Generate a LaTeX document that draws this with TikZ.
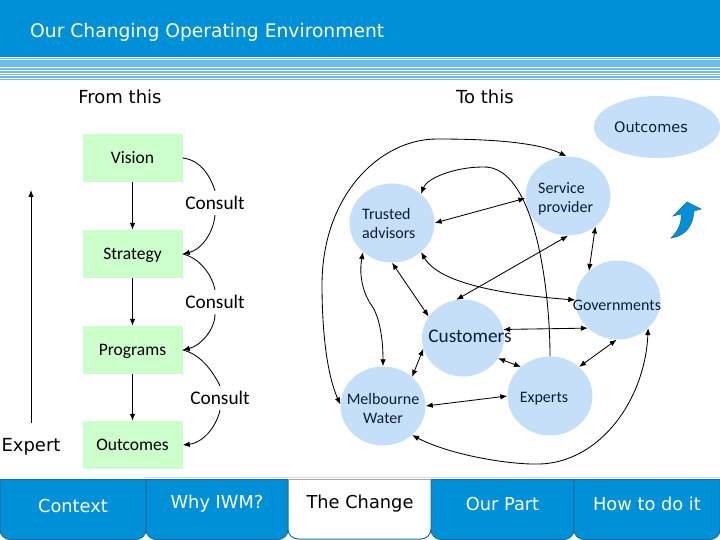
\documentclass[tikz,border=0pt]{standalone}
\usepackage{fontspec}
\setmainfont{Carlito}
\newfontfamily\verd{DejaVu Sans}
\usepackage{xcolor}
\usetikzlibrary{shapes.geometric}
\usetikzlibrary{arrows.meta}
\definecolor{iwmblue}{HTML}{0090D7}
\definecolor{iwmdark}{HTML}{1B6F9F}
\definecolor{stripe}{HTML}{6FBDE6}
\definecolor{boxgreen}{HTML}{CCFFCC}
\definecolor{bubble}{HTML}{C6DFF9}
\definecolor{inktext}{HTML}{0B1F33}

\begin{document}
\begin{tikzpicture}[x=1pt,y=-1pt]%%header, ladder, web, tabs

                \tikzstyle{stepbox} = [rectangle, minimum width=100pt, minimum height=48pt, fill=boxgreen, inner sep=0pt, text height=13pt, text depth=2pt, font=\fontsize{17.5}{19}\selectfont]
                \tikzstyle{bubblenode} = [ellipse, minimum width=85pt, minimum height=79pt, fill=bubble, inner sep=0pt]
                \tikzstyle{bubbletext} = [align=left, inner sep=0pt, text=inktext, font=\fontsize{16}{19}\selectfont]
                \tikzstyle{consult} = [inner sep=0pt, minimum height=24pt, font=\fontsize{19.3}{21}\selectfont]
                \tikzstyle{heading} = [inner sep=0pt, font=\verd\fontsize{18}{20}\selectfont]
                \tikzstyle{tabtext} = [inner sep=0pt, font=\verd\fontsize{17.8}{20}\selectfont]
                \tikzstyle{link} = [line width=0.85pt, >={Latex[length=7pt,width=5.5pt]}]

                \useasboundingbox (0,0) rectangle (720,540);

                % header band
                \fill [iwmblue] (0,0) rectangle (720,57);
                \foreach \i/\w in {58.5/1.2,61/1.8,63.5/2.2,66.2/2.4,69/2.4,71.8/2.2,74.5/1.8,77/1.4,79.8/1.2}{
                        \draw [stripe, line width=\w pt] (0,\i)--(720,\i);
                }
                \node [anchor=west, inner sep=0pt, text=white, font=\verd\fontsize{18.7}{22}\selectfont](title) at (30,32) {Our Changing Operating Environment};

                \node [heading](from) at (120,97) {From this};
                \node [heading](to) at (485,97) {To this};

                % old ladder
                \node [stepbox](vision) at (132.5,158) {Vision};
                \node [stepbox](strategy) at (132.5,254) {Strategy};
                \node [stepbox](programs) at (132.5,350) {Programs};
                \node [stepbox](outcomes) at (132.5,445) {Outcomes};

                \draw [link,->] (vision)--(strategy);
                \draw [link,->] (strategy)--(programs);
                \draw [link,->] (programs)--(outcomes);

                \node [consult](c1) at (215,203) {Consult};
                \node [consult](c2) at (215,302) {Consult};
                \node [consult](c3) at (220,398) {Consult};

                \draw [link] (vision.east) .. controls (200,160) and (210,175) .. (c1.north);
                \draw [link,->] (c1.south) .. controls (213,235) and (200,250) .. (strategy.east);
                \draw [link] (strategy.east) .. controls (200,258) and (212,275) .. (c2.north);
                \draw [link,->] (c2.south) .. controls (215,330) and (200,346) .. (programs.east);
                \draw [link] (programs.east) .. controls (200,354) and (212,370) .. (c3.north);
                \draw [link,->] (c3.south) .. controls (216,428) and (202,443) .. (outcomes.east);

                \node [heading](expert) at (31,447) {Expert};
                \coordinate (expertbase) at (31,423);
                \coordinate (experttop) at (31,190);
                \draw [link,->] (expertbase)--(experttop);

                % new web
                \node [bubblenode](trusted) at (392,223) {};
                \node [bubblenode](service) at (568,196) {};
                \node [bubblenode](govern) at (618,300) {};
                \node [bubblenode, minimum width=82pt, minimum height=77pt](customers) at (463,338) {};
                \node [bubblenode](experts) at (550,396) {};
                \node [bubblenode](melbourne) at (383,406) {};
                \node [ellipse, fill=bubble, minimum width=126pt, minimum height=62pt, inner sep=0pt](goal) at (657,127) {};
                \node [inner sep=0pt, font=\verd\fontsize{14.5}{17}\selectfont, text=inktext](tgoal) at (651,127) {Outcomes};

                \node [bubbletext, anchor=north west](ttrusted) at (362,208) {Trusted\\advisors};
                \node [bubbletext, anchor=north west](tservice) at (538,182) {Service\\provider};
                \node [bubbletext](tgovern) at (617,305) {Governments};
                \node [bubbletext, font=\fontsize{19.3}{21}\selectfont](tcustomers) at (470,336) {Customers};
                \node [bubbletext](texperts) at (544,398.5) {Experts};
                \node [bubbletext, align=center](tmelbourne) at (383,409) {Melbourne\\Water};

                \draw [link,<->] (melbourne.178) .. controls (325,370) and (322,320) .. (322,285) .. controls (322,195) and (380,139) .. (437,139) .. controls (480,139) and (535,141) .. (service.92);
                \draw [link,->] (experts.90) .. controls (550,290) and (535,165) .. (483,167) .. controls (455,167) and (427,178) .. (trusted.45);
                \draw [link,<->] (trusted.east)--(service.183);
                \draw [link,<->] (customers.100)--(service.south);
                \draw [link,<->] (trusted.-45) .. controls (440,285) and (510,295) .. (govern.west);
                \draw [link,<->] (trusted.-135) .. controls (358,280) and (366,298) .. (372,306) .. controls (380,318) and (383,340) .. (melbourne.north);
                \draw [link,<->] (trusted.-90)--(customers.148);
                \draw [link,<->] (service.-48)--(govern.135);
                \draw [link,<->] (customers.12)--(govern.223);
                \draw [link,<->] (customers.-30)--(experts.135);
                \draw [link,<->] (experts.45)--(govern.-92);
                \draw [link,<->] (melbourne.east)--(experts.west);
                \draw [link,<->] (customers.195)--(melbourne.45);
                \draw [link,<->] (melbourne.-45) .. controls (450,455) and (510,465) .. (540,464) .. controls (600,462) and (645,400) .. (govern.-43);

                % swoosh
                \draw [fill=iwmblue, draw=iwmdark, line width=0.6pt] (671,238) .. controls (679,230) and (682,222) .. (681,214) -- (673,216) -- (687,202) -- (701,209) -- (694,211) .. controls (693,225) and (686,236) .. cycle;

                % tabs
                \draw [line width=0.5pt, black!15] (145,477)--(720,477);
                \foreach \x/\y/\lab/\t/\ty in {0/146/Context/cx/506, 146/288/{Why IWM?}/wi/504, 431/574/{Our Part}/op/504, 574/720/{How to do it}/ho/504}{
                        \draw [fill=iwmblue, draw=iwmdark, line width=1pt] (\x,479.5) [rounded corners=10pt] -- (\x,539.5) -- (\y,539.5) [sharp corners] -- (\y,479.5) -- cycle;
                        \node [tabtext, text=white](\t) at ({(\x+\y)/2},\ty) {\lab};
                }
                \draw [fill=white, draw=iwmdark, line width=1pt] (288,479.5) [rounded corners=10pt] -- (288,539) -- (431,539) [sharp corners] -- (431,479.5);
                \draw [black!35, line width=1pt] (288,479.5)--(431,479.5);
                \node [tabtext, text=black](tc) at (360,504) {The Change};
\end{tikzpicture}
\end{document}
